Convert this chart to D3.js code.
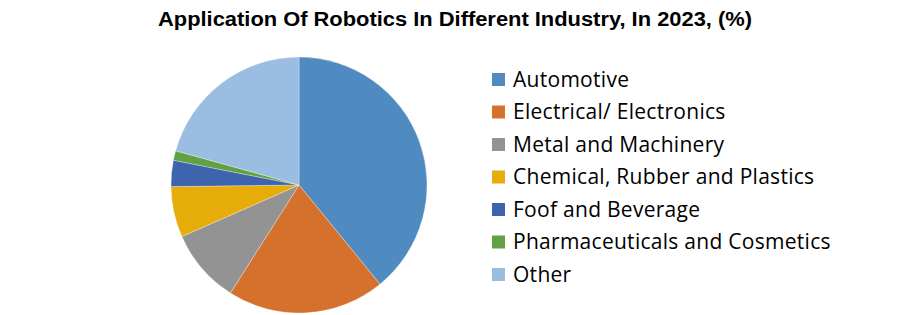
<!DOCTYPE html>
<html>
<head>
<meta charset="utf-8">
<script src="https://cdn.jsdelivr.net/npm/d3@7"></script>
<style>
  body { margin: 0; background: #fff; }
</style>
</head>
<body>
<div id="chart"></div>
<script>
// data
var industries = ["Automotive", "Electrical/ Electronics", "Metal and Machinery",
                  "Chemical, Rubber and Plastics", "Foof and Beverage",
                  "Pharmaceuticals and Cosmetics", "Other"];
var shares = [39.1, 19.9, 9.4, 6.4, 3.3, 1.2, 20.7];
var colors = ["#4f8bc0", "#d6702d", "#939393", "#e6ac0a", "#3f64ae", "#62a044", "#9cbde2"];

var w = 924, h = 315;
var svg = d3.select("#chart").append("svg")
    .attr("width", w)
    .attr("height", h);

svg.append("text")
    .attr("x", 455)
    .attr("y", 26)
    .attr("text-anchor", "middle")
    .attr("textLength", 594)
    .attr("lengthAdjust", "spacingAndGlyphs")
    .style("font-family", "'Liberation Sans', Arial, sans-serif")
    .style("font-weight", "bold")
    .style("font-size", "20px")
    .attr("fill", "#000")
    .text("Application  Of Robotics  In Different Industry, In 2023, (%)");

var cx = 299, cy = 185, r = 128;
var color = d3.scaleOrdinal().domain(industries).range(colors);

var pie = d3.pie().sort(null).value(function(d) { return d.v; });
var arc = d3.arc().innerRadius(0).outerRadius(r);
var rows = industries.map(function(name, i) { return {name: name, v: shares[i]}; });

svg.append("g")
    .attr("transform", "translate(" + cx + "," + cy + ")")
  .selectAll("path")
    .data(pie(rows))
    .enter().append("path")
    .attr("d", arc)
    .attr("fill", function(d) { return color(d.data.name); })
    .attr("stroke", "#fff")
    .attr("stroke-width", 0.5)
    .attr("stroke-opacity", 0.6);

// legend
var ly = d3.scalePoint().domain(industries).range([79.5, 274.5]);
var legend = svg.selectAll("g.legend")
    .data(industries)
    .enter().append("g")
    .attr("class", "legend")
    .attr("transform", function(d) { return "translate(492," + ly(d) + ")"; });

legend.append("rect")
    .attr("x", 0)
    .attr("y", -6.5)
    .attr("width", 13)
    .attr("height", 13)
    .attr("fill", function(d) { return color(d); });

legend.append("text")
    .attr("x", 21)
    .attr("y", 7)
    .style("font-family", "'Open Sans', sans-serif")
    .style("font-size", "21px")
    .style("letter-spacing", "0.28px")
    .attr("fill", "#000")
    .text(function(d) { return d; });
</script>
</body>
</html>
